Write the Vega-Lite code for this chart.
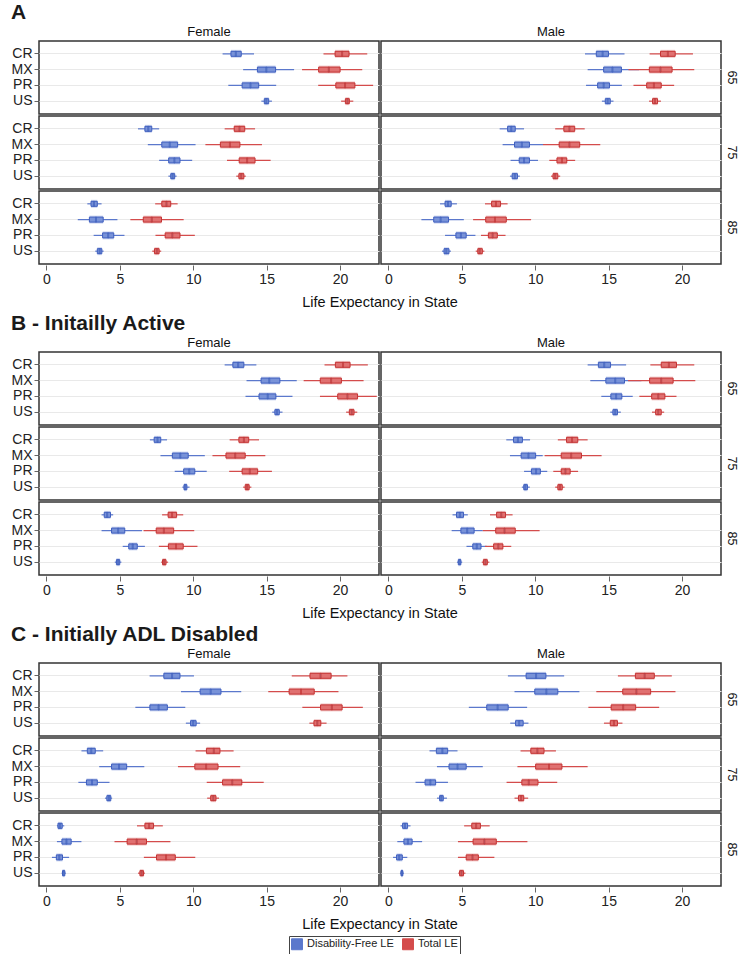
{
  "$schema": "https://vega.github.io/schema/vega-lite/v6.json",
  "padding": {"left": 11, "top": 2, "right": 0, "bottom": 0},
  "background": "white",
  "config": {
    "font": "Liberation Sans",
    "view": {"stroke": "#333333", "strokeWidth": 1.5},
    "title": {"anchor": "start", "fontSize": 21, "fontWeight": "bold", "color": "#1a1a1a", "offset": 3, "frame": "bounds"},
    "axis": {"labelFont": "Liberation Sans", "labelFontSize": 14, "labelColor": "#222", "tickColor": "#666", "domain": false},
    "header": {"labelFont": "Liberation Sans", "labelFontSize": 13, "labelColor": "#111", "titleFont": "Liberation Sans", "titleFontSize": 14.5, "titleFontWeight": "normal", "titleColor": "#111"},
    "legend": {"layout": {"bottom": {"anchor": "middle"}}}
  },
  "data": {"values": [
    {"p":"A","s":"Female","a":65,"c":"CR","t":"Disability-Free LE","lo":12.0,"q1":12.57,"md":12.9,"q3":13.27,"hi":14.14},
    {"p":"A","s":"Female","a":65,"c":"CR","t":"Total LE","lo":18.87,"q1":19.66,"md":20.14,"q3":20.61,"hi":21.85},
    {"p":"A","s":"Female","a":65,"c":"MX","t":"Disability-Free LE","lo":13.4,"q1":14.37,"md":14.98,"q3":15.61,"hi":16.87},
    {"p":"A","s":"Female","a":65,"c":"MX","t":"Total LE","lo":17.41,"q1":18.54,"md":19.23,"q3":20.0,"hi":21.51},
    {"p":"A","s":"Female","a":65,"c":"PR","t":"Disability-Free LE","lo":12.39,"q1":13.33,"md":13.9,"q3":14.46,"hi":15.65},
    {"p":"A","s":"Female","a":65,"c":"PR","t":"Total LE","lo":18.51,"q1":19.71,"md":20.34,"q3":21.01,"hi":22.25},
    {"p":"A","s":"Female","a":65,"c":"US","t":"Disability-Free LE","lo":14.64,"q1":14.84,"md":14.98,"q3":15.14,"hi":15.36},
    {"p":"A","s":"Female","a":65,"c":"US","t":"Total LE","lo":20.07,"q1":20.36,"md":20.5,"q3":20.63,"hi":20.9},
    {"p":"A","s":"Female","a":75,"c":"CR","t":"Disability-Free LE","lo":6.24,"q1":6.71,"md":6.94,"q3":7.18,"hi":7.68},
    {"p":"A","s":"Female","a":75,"c":"CR","t":"Total LE","lo":12.14,"q1":12.79,"md":13.15,"q3":13.51,"hi":14.21},
    {"p":"A","s":"Female","a":75,"c":"MX","t":"Disability-Free LE","lo":6.91,"q1":7.86,"md":8.4,"q3":8.94,"hi":10.16},
    {"p":"A","s":"Female","a":75,"c":"MX","t":"Total LE","lo":10.83,"q1":11.85,"md":12.5,"q3":13.18,"hi":14.68},
    {"p":"A","s":"Female","a":75,"c":"PR","t":"Disability-Free LE","lo":7.68,"q1":8.33,"md":8.72,"q3":9.1,"hi":9.93},
    {"p":"A","s":"Female","a":75,"c":"PR","t":"Total LE","lo":12.3,"q1":13.13,"md":13.67,"q3":14.21,"hi":15.27},
    {"p":"A","s":"Female","a":75,"c":"US","t":"Disability-Free LE","lo":8.31,"q1":8.47,"md":8.6,"q3":8.74,"hi":8.87},
    {"p":"A","s":"Female","a":75,"c":"US","t":"Total LE","lo":12.93,"q1":13.11,"md":13.27,"q3":13.45,"hi":13.58},
    {"p":"A","s":"Female","a":85,"c":"CR","t":"Disability-Free LE","lo":2.79,"q1":3.04,"md":3.24,"q3":3.47,"hi":3.76},
    {"p":"A","s":"Female","a":85,"c":"CR","t":"Total LE","lo":7.41,"q1":7.86,"md":8.18,"q3":8.47,"hi":8.94},
    {"p":"A","s":"Female","a":85,"c":"MX","t":"Disability-Free LE","lo":2.14,"q1":2.93,"md":3.38,"q3":3.87,"hi":4.84},
    {"p":"A","s":"Female","a":85,"c":"MX","t":"Total LE","lo":5.72,"q1":6.6,"md":7.18,"q3":7.84,"hi":9.35},
    {"p":"A","s":"Female","a":85,"c":"PR","t":"Disability-Free LE","lo":3.22,"q1":3.83,"md":4.21,"q3":4.59,"hi":5.32},
    {"p":"A","s":"Female","a":85,"c":"PR","t":"Total LE","lo":7.43,"q1":8.09,"md":8.58,"q3":9.1,"hi":10.11},
    {"p":"A","s":"Female","a":85,"c":"US","t":"Disability-Free LE","lo":3.33,"q1":3.47,"md":3.63,"q3":3.78,"hi":3.9},
    {"p":"A","s":"Female","a":85,"c":"US","t":"Total LE","lo":7.21,"q1":7.36,"md":7.52,"q3":7.68,"hi":7.82},
    {"p":"A","s":"Male","a":65,"c":"CR","t":"Disability-Free LE","lo":13.39,"q1":14.16,"md":14.59,"q3":14.99,"hi":16.08},
    {"p":"A","s":"Male","a":65,"c":"CR","t":"Total LE","lo":17.79,"q1":18.53,"md":19.03,"q3":19.53,"hi":20.74},
    {"p":"A","s":"Male","a":65,"c":"MX","t":"Disability-Free LE","lo":13.57,"q1":14.66,"md":15.26,"q3":15.87,"hi":17.07},
    {"p":"A","s":"Male","a":65,"c":"MX","t":"Total LE","lo":16.35,"q1":17.77,"md":18.53,"q3":19.32,"hi":20.83},
    {"p":"A","s":"Male","a":65,"c":"PR","t":"Disability-Free LE","lo":13.46,"q1":14.25,"md":14.66,"q3":15.06,"hi":15.9},
    {"p":"A","s":"Male","a":65,"c":"PR","t":"Total LE","lo":16.69,"q1":17.59,"md":18.08,"q3":18.58,"hi":19.46},
    {"p":"A","s":"Male","a":65,"c":"US","t":"Disability-Free LE","lo":14.54,"q1":14.77,"md":14.93,"q3":15.11,"hi":15.33},
    {"p":"A","s":"Male","a":65,"c":"US","t":"Total LE","lo":17.75,"q1":17.99,"md":18.15,"q3":18.33,"hi":18.56},
    {"p":"A","s":"Male","a":75,"c":"CR","t":"Disability-Free LE","lo":7.58,"q1":8.12,"md":8.37,"q3":8.64,"hi":9.24},
    {"p":"A","s":"Male","a":75,"c":"CR","t":"Total LE","lo":11.36,"q1":11.95,"md":12.33,"q3":12.69,"hi":13.37},
    {"p":"A","s":"Male","a":75,"c":"MX","t":"Disability-Free LE","lo":7.78,"q1":8.59,"md":9.09,"q3":9.61,"hi":10.53},
    {"p":"A","s":"Male","a":75,"c":"MX","t":"Total LE","lo":10.53,"q1":11.63,"md":12.33,"q3":13.03,"hi":14.43},
    {"p":"A","s":"Male","a":75,"c":"PR","t":"Disability-Free LE","lo":8.32,"q1":8.91,"md":9.24,"q3":9.61,"hi":10.19},
    {"p":"A","s":"Male","a":75,"c":"PR","t":"Total LE","lo":10.96,"q1":11.48,"md":11.82,"q3":12.15,"hi":12.72},
    {"p":"A","s":"Male","a":75,"c":"US","t":"Disability-Free LE","lo":8.28,"q1":8.43,"md":8.61,"q3":8.79,"hi":8.95},
    {"p":"A","s":"Male","a":75,"c":"US","t":"Total LE","lo":11.07,"q1":11.21,"md":11.36,"q3":11.54,"hi":11.7},
    {"p":"A","s":"Male","a":85,"c":"CR","t":"Disability-Free LE","lo":3.52,"q1":3.86,"md":4.06,"q3":4.28,"hi":4.67},
    {"p":"A","s":"Male","a":85,"c":"CR","t":"Total LE","lo":6.58,"q1":7.03,"md":7.33,"q3":7.64,"hi":8.12},
    {"p":"A","s":"Male","a":85,"c":"MX","t":"Disability-Free LE","lo":2.25,"q1":3.09,"md":3.56,"q3":4.1,"hi":5.14},
    {"p":"A","s":"Male","a":85,"c":"MX","t":"Total LE","lo":5.77,"q1":6.63,"md":7.26,"q3":8.03,"hi":9.72},
    {"p":"A","s":"Male","a":85,"c":"PR","t":"Disability-Free LE","lo":3.86,"q1":4.6,"md":4.94,"q3":5.3,"hi":5.93},
    {"p":"A","s":"Male","a":85,"c":"PR","t":"Total LE","lo":6.31,"q1":6.81,"md":7.1,"q3":7.42,"hi":7.98},
    {"p":"A","s":"Male","a":85,"c":"US","t":"Disability-Free LE","lo":3.65,"q1":3.79,"md":3.95,"q3":4.13,"hi":4.26},
    {"p":"A","s":"Male","a":85,"c":"US","t":"Total LE","lo":5.95,"q1":6.09,"md":6.22,"q3":6.4,"hi":6.54},
    {"p":"B","s":"Female","a":65,"c":"CR","t":"Disability-Free LE","lo":12.14,"q1":12.7,"md":13.06,"q3":13.45,"hi":14.3},
    {"p":"B","s":"Female","a":65,"c":"CR","t":"Total LE","lo":18.94,"q1":19.68,"md":20.2,"q3":20.68,"hi":21.89},
    {"p":"B","s":"Female","a":65,"c":"MX","t":"Disability-Free LE","lo":13.63,"q1":14.62,"md":15.18,"q3":15.9,"hi":17.05},
    {"p":"B","s":"Female","a":65,"c":"MX","t":"Total LE","lo":17.52,"q1":18.65,"md":19.39,"q3":20.09,"hi":21.6},
    {"p":"B","s":"Female","a":65,"c":"PR","t":"Disability-Free LE","lo":13.56,"q1":14.48,"md":15.07,"q3":15.63,"hi":16.76},
    {"p":"B","s":"Female","a":65,"c":"PR","t":"Total LE","lo":18.63,"q1":19.84,"md":20.5,"q3":21.19,"hi":22.5},
    {"p":"B","s":"Female","a":65,"c":"US","t":"Disability-Free LE","lo":15.38,"q1":15.56,"md":15.7,"q3":15.86,"hi":16.08},
    {"p":"B","s":"Female","a":65,"c":"US","t":"Total LE","lo":20.41,"q1":20.63,"md":20.79,"q3":20.95,"hi":21.17},
    {"p":"B","s":"Female","a":75,"c":"CR","t":"Disability-Free LE","lo":7.05,"q1":7.34,"md":7.57,"q3":7.79,"hi":8.22},
    {"p":"B","s":"Female","a":75,"c":"CR","t":"Total LE","lo":12.48,"q1":13.11,"md":13.45,"q3":13.78,"hi":14.48},
    {"p":"B","s":"Female","a":75,"c":"MX","t":"Disability-Free LE","lo":7.77,"q1":8.58,"md":9.12,"q3":9.66,"hi":10.79},
    {"p":"B","s":"Female","a":75,"c":"MX","t":"Total LE","lo":11.31,"q1":12.23,"md":12.86,"q3":13.54,"hi":14.91},
    {"p":"B","s":"Female","a":75,"c":"PR","t":"Disability-Free LE","lo":8.74,"q1":9.35,"md":9.73,"q3":10.11,"hi":10.92},
    {"p":"B","s":"Female","a":75,"c":"PR","t":"Total LE","lo":12.45,"q1":13.33,"md":13.85,"q3":14.39,"hi":15.36},
    {"p":"B","s":"Female","a":75,"c":"US","t":"Disability-Free LE","lo":9.26,"q1":9.37,"md":9.46,"q3":9.57,"hi":9.75},
    {"p":"B","s":"Female","a":75,"c":"US","t":"Total LE","lo":13.4,"q1":13.54,"md":13.67,"q3":13.81,"hi":13.96},
    {"p":"B","s":"Female","a":85,"c":"CR","t":"Disability-Free LE","lo":3.76,"q1":3.94,"md":4.14,"q3":4.37,"hi":4.55},
    {"p":"B","s":"Female","a":85,"c":"CR","t":"Total LE","lo":7.88,"q1":8.29,"md":8.56,"q3":8.87,"hi":9.32},
    {"p":"B","s":"Female","a":85,"c":"MX","t":"Disability-Free LE","lo":3.76,"q1":4.44,"md":4.89,"q3":5.34,"hi":6.51},
    {"p":"B","s":"Female","a":85,"c":"MX","t":"Total LE","lo":6.62,"q1":7.48,"md":8.0,"q3":8.67,"hi":10.07},
    {"p":"B","s":"Female","a":85,"c":"PR","t":"Disability-Free LE","lo":5.2,"q1":5.61,"md":5.88,"q3":6.19,"hi":6.71},
    {"p":"B","s":"Female","a":85,"c":"PR","t":"Total LE","lo":7.66,"q1":8.31,"md":8.83,"q3":9.32,"hi":10.29},
    {"p":"B","s":"Female","a":85,"c":"US","t":"Disability-Free LE","lo":4.66,"q1":4.77,"md":4.89,"q3":5.0,"hi":5.11},
    {"p":"B","s":"Female","a":85,"c":"US","t":"Total LE","lo":7.82,"q1":7.91,"md":8.02,"q3":8.15,"hi":8.29},
    {"p":"B","s":"Male","a":65,"c":"CR","t":"Disability-Free LE","lo":13.57,"q1":14.3,"md":14.7,"q3":15.13,"hi":16.19},
    {"p":"B","s":"Male","a":65,"c":"CR","t":"Total LE","lo":17.84,"q1":18.58,"md":19.1,"q3":19.62,"hi":20.83},
    {"p":"B","s":"Male","a":65,"c":"MX","t":"Disability-Free LE","lo":13.75,"q1":14.81,"md":15.45,"q3":16.08,"hi":17.23},
    {"p":"B","s":"Male","a":65,"c":"MX","t":"Total LE","lo":16.32,"q1":17.79,"md":18.58,"q3":19.39,"hi":20.9},
    {"p":"B","s":"Male","a":65,"c":"PR","t":"Disability-Free LE","lo":14.5,"q1":15.15,"md":15.51,"q3":15.9,"hi":16.64},
    {"p":"B","s":"Male","a":65,"c":"PR","t":"Total LE","lo":17.09,"q1":17.93,"md":18.38,"q3":18.83,"hi":19.62},
    {"p":"B","s":"Male","a":65,"c":"US","t":"Disability-Free LE","lo":15.11,"q1":15.29,"md":15.45,"q3":15.6,"hi":15.83},
    {"p":"B","s":"Male","a":65,"c":"US","t":"Total LE","lo":17.95,"q1":18.2,"md":18.38,"q3":18.58,"hi":18.78},
    {"p":"B","s":"Male","a":75,"c":"CR","t":"Disability-Free LE","lo":8.03,"q1":8.52,"md":8.82,"q3":9.13,"hi":9.65},
    {"p":"B","s":"Male","a":75,"c":"CR","t":"Total LE","lo":11.54,"q1":12.13,"md":12.51,"q3":12.9,"hi":13.57},
    {"p":"B","s":"Male","a":75,"c":"MX","t":"Disability-Free LE","lo":8.28,"q1":9.04,"md":9.54,"q3":10.03,"hi":10.51},
    {"p":"B","s":"Male","a":75,"c":"MX","t":"Total LE","lo":10.64,"q1":11.77,"md":12.45,"q3":13.15,"hi":14.52},
    {"p":"B","s":"Male","a":75,"c":"PR","t":"Disability-Free LE","lo":9.24,"q1":9.74,"md":10.06,"q3":10.35,"hi":10.82},
    {"p":"B","s":"Male","a":75,"c":"PR","t":"Total LE","lo":11.23,"q1":11.77,"md":12.06,"q3":12.38,"hi":12.92},
    {"p":"B","s":"Male","a":75,"c":"US","t":"Disability-Free LE","lo":9.09,"q1":9.22,"md":9.33,"q3":9.47,"hi":9.63},
    {"p":"B","s":"Male","a":75,"c":"US","t":"Total LE","lo":11.36,"q1":11.54,"md":11.68,"q3":11.84,"hi":12.0},
    {"p":"B","s":"Male","a":85,"c":"CR","t":"Disability-Free LE","lo":4.37,"q1":4.64,"md":4.87,"q3":5.12,"hi":5.41},
    {"p":"B","s":"Male","a":85,"c":"CR","t":"Total LE","lo":6.92,"q1":7.37,"md":7.69,"q3":7.98,"hi":8.46},
    {"p":"B","s":"Male","a":85,"c":"MX","t":"Disability-Free LE","lo":4.31,"q1":4.94,"md":5.37,"q3":5.84,"hi":6.43},
    {"p":"B","s":"Male","a":85,"c":"MX","t":"Total LE","lo":6.43,"q1":7.31,"md":7.91,"q3":8.64,"hi":10.3},
    {"p":"B","s":"Male","a":85,"c":"PR","t":"Disability-Free LE","lo":5.32,"q1":5.75,"md":6.02,"q3":6.31,"hi":6.7},
    {"p":"B","s":"Male","a":85,"c":"PR","t":"Total LE","lo":6.58,"q1":7.17,"md":7.49,"q3":7.8,"hi":8.37},
    {"p":"B","s":"Male","a":85,"c":"US","t":"Disability-Free LE","lo":4.67,"q1":4.76,"md":4.85,"q3":4.94,"hi":5.03},
    {"p":"B","s":"Male","a":85,"c":"US","t":"Total LE","lo":6.36,"q1":6.47,"md":6.61,"q3":6.74,"hi":6.88},
    {"p":"C","s":"Female","a":65,"c":"CR","t":"Disability-Free LE","lo":7.03,"q1":8.0,"md":8.56,"q3":9.1,"hi":10.05},
    {"p":"C","s":"Female","a":65,"c":"CR","t":"Total LE","lo":16.71,"q1":17.95,"md":18.67,"q3":19.39,"hi":20.5},
    {"p":"C","s":"Female","a":65,"c":"MX","t":"Disability-Free LE","lo":9.17,"q1":10.47,"md":11.19,"q3":11.89,"hi":13.27},
    {"p":"C","s":"Female","a":65,"c":"MX","t":"Total LE","lo":15.11,"q1":16.53,"md":17.34,"q3":18.24,"hi":19.89},
    {"p":"C","s":"Female","a":65,"c":"PR","t":"Disability-Free LE","lo":6.06,"q1":7.05,"md":7.64,"q3":8.24,"hi":9.46},
    {"p":"C","s":"Female","a":65,"c":"PR","t":"Total LE","lo":17.43,"q1":18.67,"md":19.44,"q3":20.14,"hi":21.55},
    {"p":"C","s":"Female","a":65,"c":"US","t":"Disability-Free LE","lo":9.5,"q1":9.82,"md":10.0,"q3":10.2,"hi":10.47},
    {"p":"C","s":"Female","a":65,"c":"US","t":"Total LE","lo":17.91,"q1":18.22,"md":18.45,"q3":18.69,"hi":19.08},
    {"p":"C","s":"Female","a":75,"c":"CR","t":"Disability-Free LE","lo":2.39,"q1":2.79,"md":3.06,"q3":3.33,"hi":3.87},
    {"p":"C","s":"Female","a":75,"c":"CR","t":"Total LE","lo":10.16,"q1":10.9,"md":11.4,"q3":11.82,"hi":12.75},
    {"p":"C","s":"Female","a":75,"c":"MX","t":"Disability-Free LE","lo":3.6,"q1":4.44,"md":4.95,"q3":5.47,"hi":6.67},
    {"p":"C","s":"Female","a":75,"c":"MX","t":"Total LE","lo":8.96,"q1":10.11,"md":10.88,"q3":11.69,"hi":13.2},
    {"p":"C","s":"Female","a":75,"c":"PR","t":"Disability-Free LE","lo":2.18,"q1":2.73,"md":3.11,"q3":3.47,"hi":4.3},
    {"p":"C","s":"Female","a":75,"c":"PR","t":"Total LE","lo":10.92,"q1":12.0,"md":12.66,"q3":13.31,"hi":14.8},
    {"p":"C","s":"Female","a":75,"c":"US","t":"Disability-Free LE","lo":3.99,"q1":4.12,"md":4.26,"q3":4.39,"hi":4.48},
    {"p":"C","s":"Female","a":75,"c":"US","t":"Total LE","lo":10.95,"q1":11.19,"md":11.37,"q3":11.55,"hi":11.76},
    {"p":"C","s":"Female","a":85,"c":"CR","t":"Disability-Free LE","lo":0.72,"q1":0.79,"md":0.92,"q3":1.08,"hi":1.22},
    {"p":"C","s":"Female","a":85,"c":"CR","t":"Total LE","lo":6.17,"q1":6.71,"md":7.0,"q3":7.3,"hi":7.93},
    {"p":"C","s":"Female","a":85,"c":"MX","t":"Disability-Free LE","lo":0.72,"q1":1.06,"md":1.37,"q3":1.69,"hi":2.39},
    {"p":"C","s":"Female","a":85,"c":"MX","t":"Total LE","lo":4.64,"q1":5.5,"md":6.15,"q3":6.82,"hi":8.45},
    {"p":"C","s":"Female","a":85,"c":"PR","t":"Disability-Free LE","lo":0.38,"q1":0.68,"md":0.88,"q3":1.1,"hi":1.55},
    {"p":"C","s":"Female","a":85,"c":"PR","t":"Total LE","lo":6.64,"q1":7.5,"md":8.15,"q3":8.78,"hi":10.14},
    {"p":"C","s":"Female","a":85,"c":"US","t":"Disability-Free LE","lo":1.04,"q1":1.1,"md":1.17,"q3":1.26,"hi":1.33},
    {"p":"C","s":"Female","a":85,"c":"US","t":"Total LE","lo":6.24,"q1":6.37,"md":6.49,"q3":6.62,"hi":6.71},
    {"p":"C","s":"Male","a":65,"c":"CR","t":"Disability-Free LE","lo":8.14,"q1":9.38,"md":10.06,"q3":10.73,"hi":11.97},
    {"p":"C","s":"Male","a":65,"c":"CR","t":"Total LE","lo":15.63,"q1":16.82,"md":17.45,"q3":18.11,"hi":19.3},
    {"p":"C","s":"Male","a":65,"c":"MX","t":"Disability-Free LE","lo":8.59,"q1":9.97,"md":10.76,"q3":11.54,"hi":13.01},
    {"p":"C","s":"Male","a":65,"c":"MX","t":"Total LE","lo":14.16,"q1":15.96,"md":16.89,"q3":17.86,"hi":19.55},
    {"p":"C","s":"Male","a":65,"c":"PR","t":"Disability-Free LE","lo":5.48,"q1":6.7,"md":7.44,"q3":8.16,"hi":9.45},
    {"p":"C","s":"Male","a":65,"c":"PR","t":"Total LE","lo":13.62,"q1":15.17,"md":15.99,"q3":16.84,"hi":18.44},
    {"p":"C","s":"Male","a":65,"c":"US","t":"Disability-Free LE","lo":8.3,"q1":8.66,"md":8.91,"q3":9.18,"hi":9.54},
    {"p":"C","s":"Male","a":65,"c":"US","t":"Total LE","lo":14.68,"q1":15.11,"md":15.36,"q3":15.6,"hi":15.94},
    {"p":"C","s":"Male","a":75,"c":"CR","t":"Disability-Free LE","lo":2.8,"q1":3.27,"md":3.68,"q3":4.04,"hi":4.71},
    {"p":"C","s":"Male","a":75,"c":"CR","t":"Total LE","lo":9.0,"q1":9.7,"md":10.15,"q3":10.6,"hi":11.41},
    {"p":"C","s":"Male","a":75,"c":"MX","t":"Disability-Free LE","lo":3.31,"q1":4.13,"md":4.71,"q3":5.3,"hi":6.43},
    {"p":"C","s":"Male","a":75,"c":"MX","t":"Total LE","lo":8.79,"q1":10.03,"md":10.94,"q3":11.82,"hi":13.57},
    {"p":"C","s":"Male","a":75,"c":"PR","t":"Disability-Free LE","lo":1.85,"q1":2.5,"md":2.86,"q3":3.22,"hi":4.06},
    {"p":"C","s":"Male","a":75,"c":"PR","t":"Total LE","lo":8.05,"q1":9.09,"md":9.56,"q3":10.19,"hi":11.5},
    {"p":"C","s":"Male","a":75,"c":"US","t":"Disability-Free LE","lo":3.31,"q1":3.49,"md":3.61,"q3":3.74,"hi":3.99},
    {"p":"C","s":"Male","a":75,"c":"US","t":"Total LE","lo":8.59,"q1":8.86,"md":9.04,"q3":9.22,"hi":9.52},
    {"p":"C","s":"Male","a":85,"c":"CR","t":"Disability-Free LE","lo":0.83,"q1":0.97,"md":1.13,"q3":1.31,"hi":1.51},
    {"p":"C","s":"Male","a":85,"c":"CR","t":"Total LE","lo":5.16,"q1":5.68,"md":5.98,"q3":6.27,"hi":6.9},
    {"p":"C","s":"Male","a":85,"c":"MX","t":"Disability-Free LE","lo":0.61,"q1":1.06,"md":1.33,"q3":1.62,"hi":2.3},
    {"p":"C","s":"Male","a":85,"c":"MX","t":"Total LE","lo":4.74,"q1":5.77,"md":6.54,"q3":7.35,"hi":9.47},
    {"p":"C","s":"Male","a":85,"c":"PR","t":"Disability-Free LE","lo":0.32,"q1":0.56,"md":0.74,"q3":0.95,"hi":1.29},
    {"p":"C","s":"Male","a":85,"c":"PR","t":"Total LE","lo":4.74,"q1":5.3,"md":5.73,"q3":6.13,"hi":7.22},
    {"p":"C","s":"Male","a":85,"c":"US","t":"Disability-Free LE","lo":0.79,"q1":0.86,"md":0.92,"q3":0.99,"hi":1.06},
    {"p":"C","s":"Male","a":85,"c":"US","t":"Total LE","lo":4.76,"q1":4.85,"md":4.98,"q3":5.12,"hi":5.25}
  ]},
  "spacing": 3,
  "vconcat": [
    {
      "title": "A",
      "transform": [{"filter": "datum.p === 'A'"}],
      "spacing": 0,
      "facet": {
        "column": {"field": "s", "type": "nominal", "header": {"title": "Life Expectancy in State", "titleOrient": "bottom", "labelOrient": "top", "labelPadding": 1, "titlePadding": 0}},
        "row": {"field": "a", "type": "ordinal", "header": {"title": null, "labelOrient": "right", "labelAngle": 90, "labelPadding": 3, "labelFontSize": 12.5}}
      },
      "spec": {
        "width": 340, "height": 73,
        "encoding": {
          "y": {"field": "c", "type": "nominal", "title": null, "scale": {"paddingInner": 0, "paddingOuter": 0.3125}, "axis": {"grid": true, "gridColor": "#e9e9e9", "tickSize": 4, "labelPadding": 2}}
        },
        "layer": [
          {"mark": {"type": "rule", "strokeWidth": 1.2},
           "encoding": {"x": {"field": "lo", "type": "quantitative", "title": null, "scale": {"domain": [-0.5, 22.65], "nice": false, "zero": false}, "axis": {"values": [0,5,10,15,20], "grid": false, "tickSize": 5}}, "x2": {"field": "hi"},
             "color": {"field": "t", "type": "nominal", "scale": {"domain": ["Disability-Free LE", "Total LE"], "range": ["#5b78cc", "#d44c4c"]}}}},
          {"mark": {"type": "bar", "size": 8, "opacity": 0.3},
           "encoding": {"x": {"field": "q1", "type": "quantitative"}, "x2": {"field": "q3"},
             "color": {"field": "t", "type": "nominal"}}},
          {"mark": {"type": "bar", "size": 5, "strokeWidth": 1, "opacity": 1},
           "encoding": {"x": {"field": "q1", "type": "quantitative"}, "x2": {"field": "q3"},
             "fill": {"field": "t", "type": "nominal", "scale": {"domain": ["Disability-Free LE", "Total LE"], "range": ["#7892d8", "#e07070"]}, "legend": {"title": null, "orient": "bottom", "direction": "horizontal", "symbolType": "square", "symbolSize": 120, "symbolStrokeWidth": 1, "symbolOpacity": 1, "labelFontSize": 11, "labelColor": "#222", "strokeColor": "#444", "padding": 2, "columnPadding": 6, "labelOffset": 4, "offset": 4, "encode": {"symbols": {"update": {"opacity": {"value": 1}, "fillOpacity": {"value": 1}, "fill": {"scale": "fill", "field": "value"}, "stroke": {"scale": "stroke", "field": "value"}}}}}},
             "stroke": {"field": "t", "type": "nominal", "scale": {"domain": ["Disability-Free LE", "Total LE"], "range": ["#3f5fbf", "#c43434"]}}}},
          {"mark": {"type": "tick", "orient": "vertical", "size": 5, "thickness": 1},
           "encoding": {"x": {"field": "md", "type": "quantitative"},
             "stroke": {"field": "t", "type": "nominal"}}}
        ]
      }
    },
    {
      "title": "B - Initailly Active",
      "transform": [{"filter": "datum.p === 'B'"}],
      "spacing": 0,
      "facet": {
        "column": {"field": "s", "type": "nominal", "header": {"title": "Life Expectancy in State", "titleOrient": "bottom", "labelOrient": "top", "labelPadding": 1, "titlePadding": 0}},
        "row": {"field": "a", "type": "ordinal", "header": {"title": null, "labelOrient": "right", "labelAngle": 90, "labelPadding": 3, "labelFontSize": 12.5}}
      },
      "spec": {
        "width": 340, "height": 73,
        "encoding": {
          "y": {"field": "c", "type": "nominal", "title": null, "scale": {"paddingInner": 0, "paddingOuter": 0.3125}, "axis": {"grid": true, "gridColor": "#e9e9e9", "tickSize": 4, "labelPadding": 2}}
        },
        "layer": [
          {"mark": {"type": "rule", "strokeWidth": 1.2},
           "encoding": {"x": {"field": "lo", "type": "quantitative", "title": null, "scale": {"domain": [-0.5, 22.65], "nice": false, "zero": false}, "axis": {"values": [0,5,10,15,20], "grid": false, "tickSize": 5}}, "x2": {"field": "hi"},
             "color": {"field": "t", "type": "nominal"}}},
          {"mark": {"type": "bar", "size": 8, "opacity": 0.3},
           "encoding": {"x": {"field": "q1", "type": "quantitative"}, "x2": {"field": "q3"},
             "color": {"field": "t", "type": "nominal"}}},
          {"mark": {"type": "bar", "size": 5, "strokeWidth": 1, "opacity": 1},
           "encoding": {"x": {"field": "q1", "type": "quantitative"}, "x2": {"field": "q3"},
             "fill": {"field": "t", "type": "nominal"},
             "stroke": {"field": "t", "type": "nominal"}}},
          {"mark": {"type": "tick", "orient": "vertical", "size": 5, "thickness": 1},
           "encoding": {"x": {"field": "md", "type": "quantitative"},
             "stroke": {"field": "t", "type": "nominal"}}}
        ]
      }
    },
    {
      "title": "C - Initially ADL Disabled",
      "transform": [{"filter": "datum.p === 'C'"}],
      "spacing": 0,
      "facet": {
        "column": {"field": "s", "type": "nominal", "header": {"title": "Life Expectancy in State", "titleOrient": "bottom", "labelOrient": "top", "labelPadding": 1, "titlePadding": 0}},
        "row": {"field": "a", "type": "ordinal", "header": {"title": null, "labelOrient": "right", "labelAngle": 90, "labelPadding": 3, "labelFontSize": 12.5}}
      },
      "spec": {
        "width": 340, "height": 73,
        "encoding": {
          "y": {"field": "c", "type": "nominal", "title": null, "scale": {"paddingInner": 0, "paddingOuter": 0.3125}, "axis": {"grid": true, "gridColor": "#e9e9e9", "tickSize": 4, "labelPadding": 2}}
        },
        "layer": [
          {"mark": {"type": "rule", "strokeWidth": 1.2},
           "encoding": {"x": {"field": "lo", "type": "quantitative", "title": null, "scale": {"domain": [-0.5, 22.65], "nice": false, "zero": false}, "axis": {"values": [0,5,10,15,20], "grid": false, "tickSize": 5}}, "x2": {"field": "hi"},
             "color": {"field": "t", "type": "nominal"}}},
          {"mark": {"type": "bar", "size": 8, "opacity": 0.3},
           "encoding": {"x": {"field": "q1", "type": "quantitative"}, "x2": {"field": "q3"},
             "color": {"field": "t", "type": "nominal"}}},
          {"mark": {"type": "bar", "size": 5, "strokeWidth": 1, "opacity": 1},
           "encoding": {"x": {"field": "q1", "type": "quantitative"}, "x2": {"field": "q3"},
             "fill": {"field": "t", "type": "nominal"},
             "stroke": {"field": "t", "type": "nominal"}}},
          {"mark": {"type": "tick", "orient": "vertical", "size": 5, "thickness": 1},
           "encoding": {"x": {"field": "md", "type": "quantitative"},
             "stroke": {"field": "t", "type": "nominal"}}}
        ]
      }
    }
  ]
}
